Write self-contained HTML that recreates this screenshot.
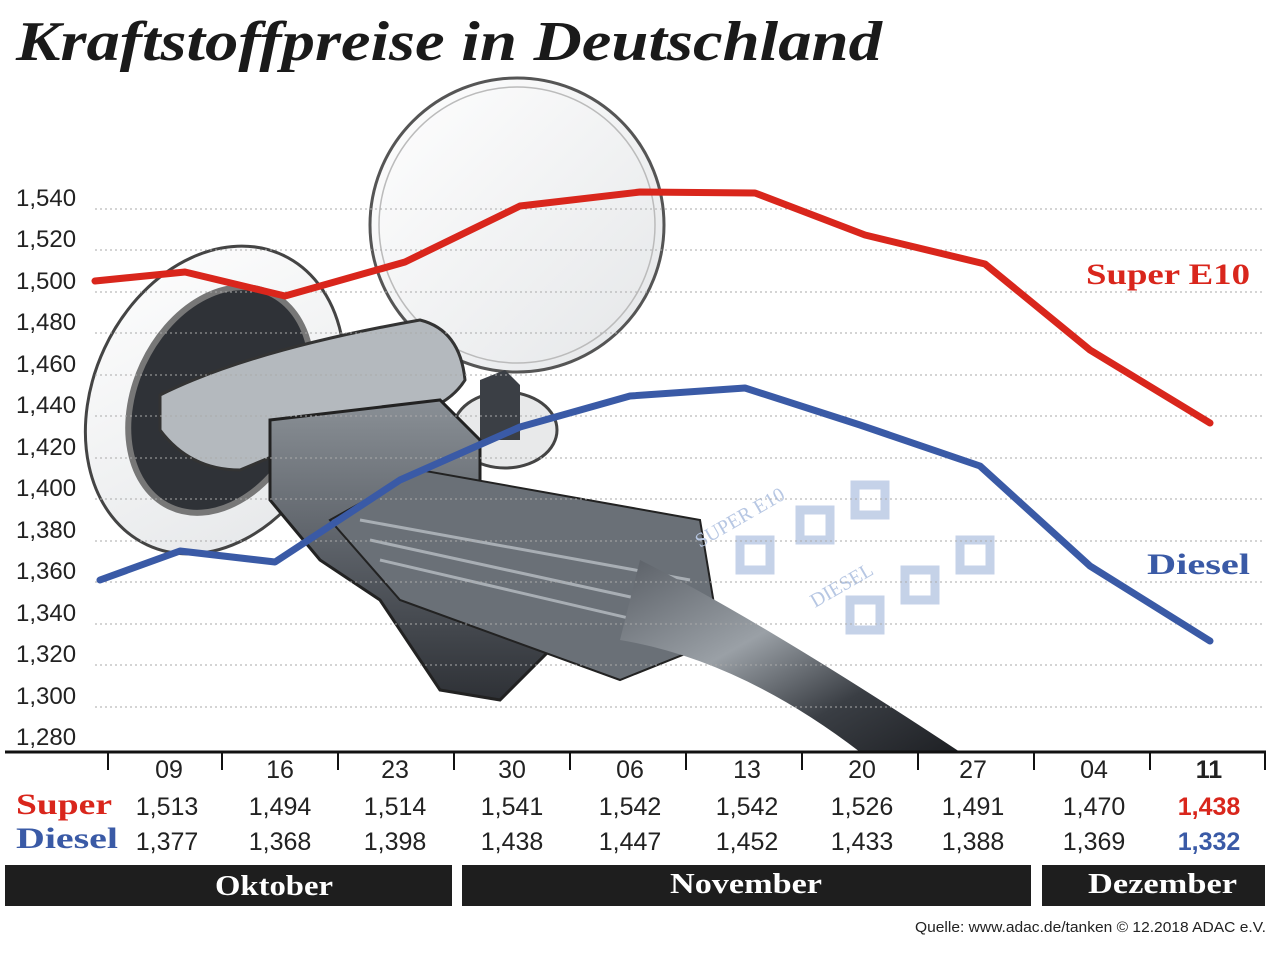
<!DOCTYPE html>
<html><head><meta charset="utf-8"><style>
html,body{margin:0;padding:0;background:#fff}
body{width:1280px;height:961px;position:relative;overflow:hidden;font-family:"Liberation Sans",sans-serif}
svg{position:absolute;left:0;top:0}
</style></head><body>
<svg width="1280" height="961" viewBox="0 0 1280 961">
<defs>
<linearGradient id="hose" x1="0" y1="0" x2="1" y2="1">
<stop offset="0" stop-color="#5a5f66"/><stop offset="0.4" stop-color="#9aa0a6"/><stop offset="0.7" stop-color="#3a3e44"/><stop offset="1" stop-color="#1e2024"/></linearGradient>
<linearGradient id="grip" x1="0" y1="0" x2="0" y2="1">
<stop offset="0" stop-color="#8a9096"/><stop offset="0.5" stop-color="#5b6067"/><stop offset="1" stop-color="#2e3136"/></linearGradient>
<linearGradient id="cap" x1="0" y1="0" x2="1" y2="1">
<stop offset="0" stop-color="#ffffff"/><stop offset="1" stop-color="#e4e6e8"/></linearGradient>
</defs>
<text x="16" y="60" textLength="866" lengthAdjust="spacingAndGlyphs" font-family="Liberation Serif,serif" font-weight="bold" font-style="italic" font-size="56" fill="#1a1a1a">Kraftstoffpreise in Deutschland</text>

<circle cx="517" cy="225" r="147" fill="url(#cap)" stroke="#555" stroke-width="3"/>
<circle cx="517" cy="225" r="138" fill="none" stroke="#bbb" stroke-width="1.5"/>
<ellipse cx="215" cy="400" rx="122" ry="160" fill="url(#cap)" stroke="#444" stroke-width="3" transform="rotate(25 215 400)"/>
<ellipse cx="220" cy="400" rx="85" ry="118" fill="#2f3237" stroke="#777" stroke-width="6" transform="rotate(25 220 400)"/>
<ellipse cx="505" cy="430" rx="52" ry="38" fill="#e8e9ea" stroke="#444" stroke-width="3"/>
<path d="M480 380 L505 370 L520 385 L520 440 L480 440Z" fill="#3b3f45"/>
<path d="M160 395 Q250 350 420 320 Q460 330 465 380 Q440 420 360 420 L240 470 Q190 470 160 430Z" fill="#b4b9be" stroke="#333" stroke-width="3"/>
<path d="M270 420 L440 400 L480 440 L480 520 L560 560 L560 640 L500 700 L440 690 L380 600 L320 560 L270 500Z" fill="url(#grip)" stroke="#222" stroke-width="3"/>
<path d="M330 520 L420 470 L700 520 L720 640 L620 680 L400 600Z" fill="#6a7077" stroke="#222" stroke-width="2"/>
<path d="M360 520 L690 580 M370 540 L690 610 M380 560 L680 630" stroke="#a8aeb4" stroke-width="3"/>
<path d="M640 560 Q760 620 960 752 L860 752 Q740 660 620 640Z" fill="url(#hose)"/>
<g fill="none" stroke="#b7c7e3" stroke-width="9" opacity="0.8">
<path d="M740 540 h30 v30 h-30z M800 510 h30 v30 h-30z M855 485 h30 v30 h-30z"/>
<path d="M850 600 h30 v30 h-30z M905 570 h30 v30 h-30z M960 540 h30 v30 h-30z"/>
</g>
<text x="700" y="548" transform="rotate(-30 700 548)" font-family="Liberation Serif,serif" font-size="20" fill="#b7c7e3">SUPER E10</text>
<text x="815" y="608" transform="rotate(-30 815 608)" font-family="Liberation Serif,serif" font-size="20" fill="#b7c7e3">DIESEL</text>

<g stroke="#aaa" stroke-width="1" stroke-dasharray="2,3">
<line x1="95" y1="209" x2="1262" y2="209"/><line x1="95" y1="250" x2="1262" y2="250"/>
<line x1="95" y1="292" x2="1262" y2="292"/><line x1="95" y1="333" x2="1262" y2="333"/>
<line x1="95" y1="375" x2="1262" y2="375"/><line x1="95" y1="416" x2="1262" y2="416"/>
<line x1="95" y1="458" x2="1262" y2="458"/><line x1="95" y1="499" x2="1262" y2="499"/>
<line x1="95" y1="541" x2="1262" y2="541"/><line x1="95" y1="582" x2="1262" y2="582"/>
<line x1="95" y1="624" x2="1262" y2="624"/><line x1="95" y1="665" x2="1262" y2="665"/>
<line x1="95" y1="707" x2="1262" y2="707"/>
</g>
<g font-size="24" fill="#222">
<text x="16" y="206">1,540</text><text x="16" y="247">1,520</text><text x="16" y="289">1,500</text>
<text x="16" y="330">1,480</text><text x="16" y="372">1,460</text><text x="16" y="413">1,440</text>
<text x="16" y="455">1,420</text><text x="16" y="496">1,400</text><text x="16" y="538">1,380</text>
<text x="16" y="579">1,360</text><text x="16" y="621">1,340</text><text x="16" y="662">1,320</text>
<text x="16" y="704">1,300</text><text x="16" y="745">1,280</text>
</g>

<polyline points="95,281 185,272 285,296 405,262 520,206 640,192 755,193 865,235 985,264 1090,350 1210,423" fill="none" stroke="#d9261c" stroke-width="7" stroke-linejoin="round" stroke-linecap="round"/>
<polyline points="100,580 180,551 275,562 400,480 520,427 630,396 745,388 860,425 980,466 1090,566 1210,641" fill="none" stroke="#3a5aa6" stroke-width="7" stroke-linejoin="round" stroke-linecap="round"/>
<text x="1086" y="284" textLength="164" lengthAdjust="spacingAndGlyphs" font-family="Liberation Serif,serif" font-weight="bold" font-size="30" fill="#d9261c">Super E10</text>
<text x="1147" y="574" textLength="103" lengthAdjust="spacingAndGlyphs" font-family="Liberation Serif,serif" font-weight="bold" font-size="30" fill="#3a5aa6">Diesel</text>

<line x1="5" y1="752" x2="1266" y2="752" stroke="#111" stroke-width="3"/>
<g stroke="#111" stroke-width="2">
<line x1="108" y1="752" x2="108" y2="770"/><line x1="222" y1="752" x2="222" y2="770"/>
<line x1="338" y1="752" x2="338" y2="770"/><line x1="454" y1="752" x2="454" y2="770"/>
<line x1="570" y1="752" x2="570" y2="770"/><line x1="686" y1="752" x2="686" y2="770"/>
<line x1="802" y1="752" x2="802" y2="770"/><line x1="918" y1="752" x2="918" y2="770"/>
<line x1="1034" y1="752" x2="1034" y2="770"/><line x1="1150" y1="752" x2="1150" y2="770"/>
<line x1="1265" y1="752" x2="1265" y2="770"/>
</g>
<g font-size="25" fill="#222" text-anchor="middle">
<text x="169" y="778">09</text><text x="280" y="778">16</text><text x="395" y="778">23</text>
<text x="512" y="778">30</text><text x="630" y="778">06</text><text x="747" y="778">13</text>
<text x="862" y="778">20</text><text x="973" y="778">27</text><text x="1094" y="778">04</text>
<text x="1209" y="778" font-weight="bold">11</text>
<text x="167" y="815">1,513</text><text x="280" y="815">1,494</text><text x="395" y="815">1,514</text>
<text x="512" y="815">1,541</text><text x="630" y="815">1,542</text><text x="747" y="815">1,542</text>
<text x="862" y="815">1,526</text><text x="973" y="815">1,491</text><text x="1094" y="815">1,470</text>
<text x="1209" y="815" font-weight="bold" fill="#d9261c">1,438</text>
<text x="167" y="850">1,377</text><text x="280" y="850">1,368</text><text x="395" y="850">1,398</text>
<text x="512" y="850">1,438</text><text x="630" y="850">1,447</text><text x="747" y="850">1,452</text>
<text x="862" y="850">1,433</text><text x="973" y="850">1,388</text><text x="1094" y="850">1,369</text>
<text x="1209" y="850" font-weight="bold" fill="#3a5aa6">1,332</text>
</g>
<text x="16" y="814" textLength="96" lengthAdjust="spacingAndGlyphs" font-family="Liberation Serif,serif" font-weight="bold" font-size="30" fill="#d9261c">Super</text>
<text x="16" y="848" textLength="102" lengthAdjust="spacingAndGlyphs" font-family="Liberation Serif,serif" font-weight="bold" font-size="30" fill="#3a5aa6">Diesel</text>

<rect x="5" y="865" width="447" height="41" fill="#1e1e1e"/>
<rect x="462" y="865" width="569" height="41" fill="#1e1e1e"/>
<rect x="1042" y="865" width="223" height="41" fill="#1e1e1e"/>
<g font-family="Liberation Serif,serif" font-weight="bold" font-size="28" fill="#fff">
<text x="215" y="895" textLength="118" lengthAdjust="spacingAndGlyphs">Oktober</text>
<text x="670" y="893" textLength="152" lengthAdjust="spacingAndGlyphs">November</text>
<text x="1088" y="893" textLength="149" lengthAdjust="spacingAndGlyphs">Dezember</text>
</g>
<text x="915" y="932" textLength="351" lengthAdjust="spacingAndGlyphs" font-size="15" fill="#222">Quelle: www.adac.de/tanken   © 12.2018  ADAC e.V.</text>
</svg>
</body></html>
